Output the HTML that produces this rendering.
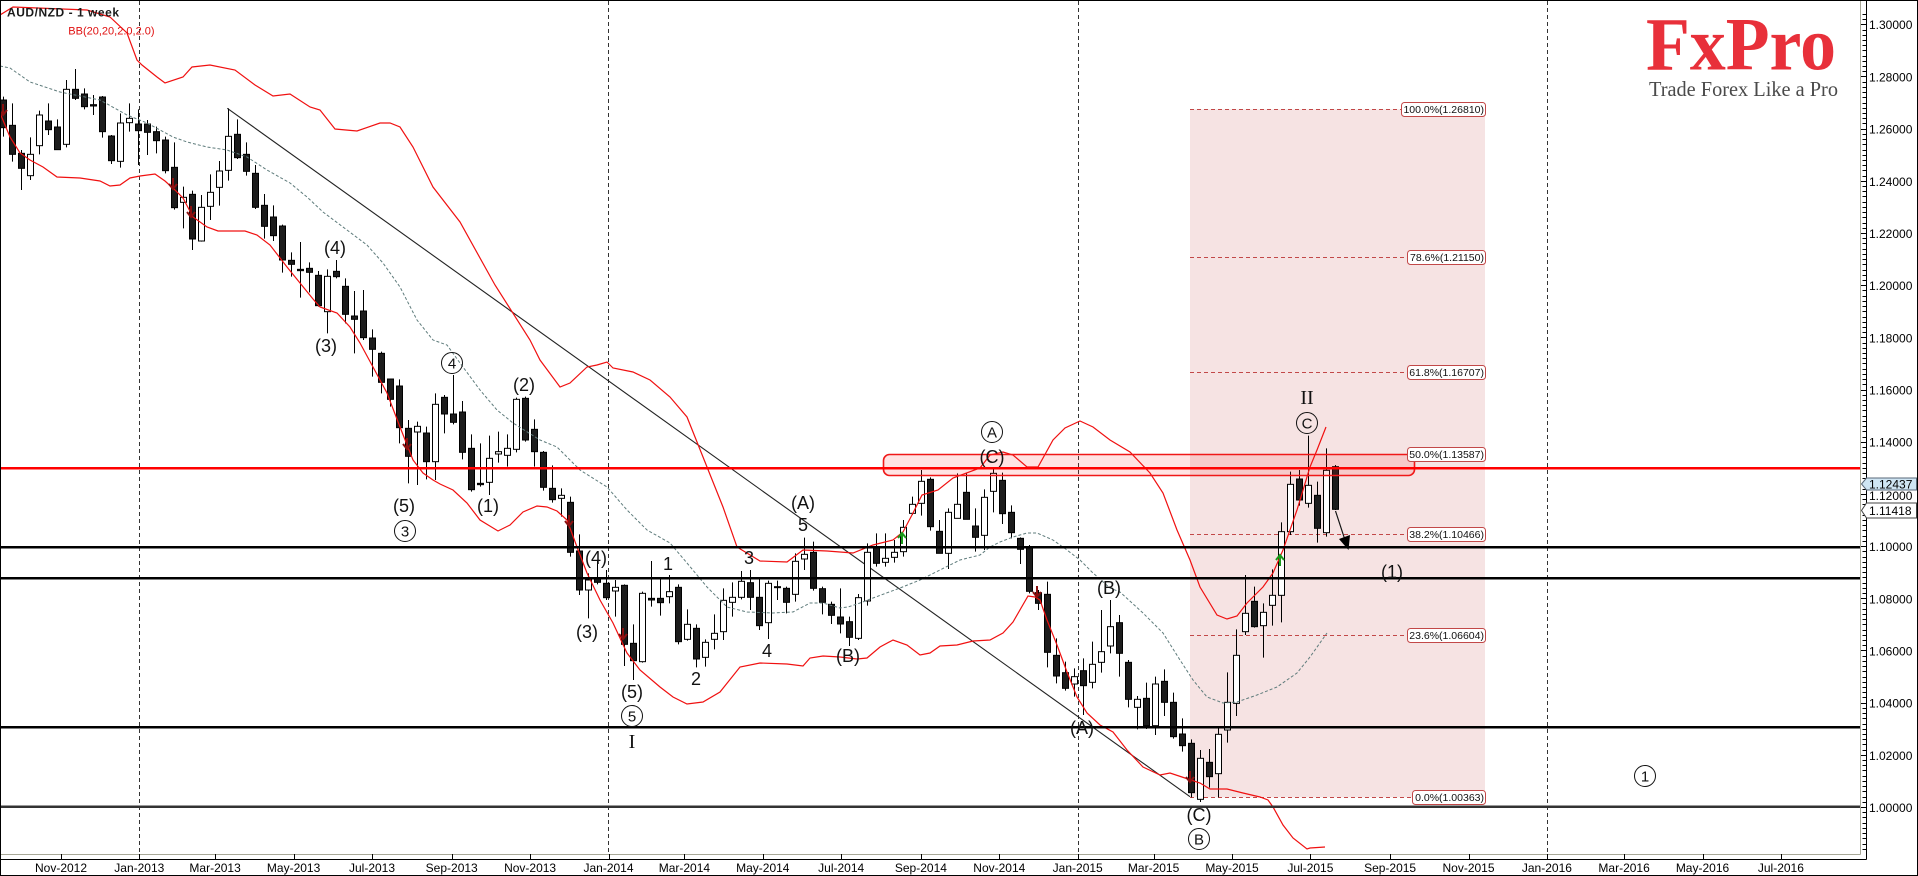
<!DOCTYPE html>
<html><head><meta charset="utf-8">
<style>
html,body{margin:0;padding:0;background:#fff;overflow:hidden;}
svg{display:block;}
.ax{font-family:"Liberation Sans",Arial,sans-serif;font-size:12px;fill:#000;dominant-baseline:central;}
.dt{font-family:"Liberation Sans",Arial,sans-serif;font-size:12px;fill:#000;text-anchor:middle;dominant-baseline:central;}
.w{font-family:"Liberation Sans",Arial,sans-serif;font-size:18px;fill:#111;text-anchor:middle;dominant-baseline:central;}
.cw{font-family:"Liberation Sans",Arial,sans-serif;font-size:15px;fill:#111;text-anchor:middle;dominant-baseline:central;}
.rm{font-family:"Liberation Serif","Times New Roman",serif;font-size:20px;fill:#111;text-anchor:middle;dominant-baseline:central;}
.fib{font-family:"Liberation Sans",Arial,sans-serif;font-size:10.5px;fill:#111;text-anchor:end;dominant-baseline:central;}
</style></head><body>
<svg id="c" width="1918" height="876" viewBox="0 0 1918 876" xmlns="http://www.w3.org/2000/svg">
<rect x="0" y="0" width="1918" height="876" fill="#fff"/>
<!-- fib rect -->
<rect x="1190" y="109.3" width="295" height="688" fill="#f6e3e3"/>
<g stroke="#c24848" stroke-width="1" stroke-dasharray="4,3" fill="none">
<line x1="1190" y1="109.5" x2="1402" y2="109.5"/>
<line x1="1190" y1="257.5" x2="1407" y2="257.5"/>
<line x1="1190" y1="372.5" x2="1407" y2="372.5"/>
<line x1="1190" y1="454.5" x2="1407" y2="454.5"/>
<line x1="1190" y1="534.5" x2="1407" y2="534.5"/>
<line x1="1190" y1="635.5" x2="1407" y2="635.5"/>
<line x1="1190" y1="797.5" x2="1412" y2="797.5"/>
</g>
<!-- dashed verticals -->
<g stroke="#333" stroke-width="1" stroke-dasharray="4,3">
<line x1="139.5" y1="1" x2="139.5" y2="854"/>
<line x1="608.5" y1="1" x2="608.5" y2="854"/>
<line x1="1078.5" y1="1" x2="1078.5" y2="854"/>
<line x1="1547.5" y1="1" x2="1547.5" y2="854"/>
</g>
<!-- trendline -->
<line x1="227.3" y1="108.3" x2="1190" y2="796.7" stroke="#222" stroke-width="1.1"/>
<g id="candles"></g>
<g id="bands"></g>
<!-- resistance rect -->
<rect x="883.5" y="454.5" width="531" height="21" rx="6" ry="6" fill="rgba(255,40,40,0.13)" stroke="#f01818" stroke-width="1.6"/>
<!-- horizontal levels -->
<line x1="0" y1="468.3" x2="1860" y2="468.3" stroke="#f00" stroke-width="2.5"/>
<line x1="0" y1="547.3" x2="1860" y2="547.3" stroke="#000" stroke-width="2.5"/>
<line x1="0" y1="578.3" x2="1860" y2="578.3" stroke="#000" stroke-width="2.5"/>
<line x1="0" y1="727.3" x2="1860" y2="727.3" stroke="#000" stroke-width="2.5"/>
<line x1="0" y1="806.7" x2="1860" y2="806.7" stroke="#333" stroke-width="2.5"/>
<!-- arrow -->
<line x1="1335.5" y1="511" x2="1345" y2="540" stroke="#111" stroke-width="1.2"/>
<polygon points="1339,539 1350,535 1348.5,550" fill="#000"/>
<g id="marks"></g>

<!-- fib labels -->
<g fill="#fff" stroke="#c24848" stroke-width="1">
<rect x="1401.5" y="102.5" width="84" height="14" rx="3"/>
<rect x="1407.5" y="250.5" width="78" height="14" rx="3"/>
<rect x="1407.5" y="365.5" width="78" height="14" rx="3"/>
<rect x="1407.5" y="447.5" width="78" height="14" rx="3"/>
<rect x="1407.5" y="527.5" width="78" height="14" rx="3"/>
<rect x="1407.5" y="628.5" width="78" height="14" rx="3"/>
<rect x="1412.5" y="790.5" width="73" height="14" rx="3"/>
</g>
<text class="fib" x="1484" y="110">100.0%(1.26810)</text>
<text class="fib" x="1484" y="258">78.6%(1.21150)</text>
<text class="fib" x="1484" y="373">61.8%(1.16707)</text>
<text class="fib" x="1484" y="455">50.0%(1.13587)</text>
<text class="fib" x="1484" y="535">38.2%(1.10466)</text>
<text class="fib" x="1484" y="636">23.6%(1.06604)</text>
<text class="fib" x="1484" y="798">0.0%(1.00363)</text>

<!-- wave labels -->
<text class="w" x="335" y="248">(4)</text>
<text class="w" x="326" y="346">(3)</text>
<text class="w" x="404" y="506">(5)</text>
<text class="w" x="488" y="506">(1)</text>
<text class="w" x="524" y="385">(2)</text>
<text class="w" x="596" y="558">(4)</text>
<text class="w" x="587" y="632">(3)</text>
<text class="w" x="632" y="692">(5)</text>
<text class="rm" x="632" y="742">I</text>
<text class="w" x="668" y="564">1</text>
<text class="w" x="696" y="679">2</text>
<text class="w" x="749" y="558">3</text>
<text class="w" x="767" y="651">4</text>
<text class="w" x="803" y="503">(A)</text>
<text class="w" x="803" y="525">5</text>
<text class="w" x="848" y="656">(B)</text>
<text class="w" x="992" y="457">(C)</text>
<text class="w" x="1109" y="588">(B)</text>
<text class="w" x="1082" y="728">(A)</text>
<text class="w" x="1199" y="815">(C)</text>
<text class="w" x="1392" y="572">(1)</text>
<text class="rm" x="1307" y="398">II</text>
<g fill="none" stroke="#111" stroke-width="1">
<circle cx="405" cy="531" r="10.5"/>
<circle cx="452" cy="363" r="10.5"/>
<circle cx="632" cy="716" r="10.5"/>
<circle cx="992" cy="432" r="10.5"/>
<circle cx="1307" cy="423" r="10.5"/>
<circle cx="1199" cy="839" r="10.5"/>
<circle cx="1645" cy="776" r="10.5"/>
</g>
<text class="cw" x="405" y="532">3</text>
<text class="cw" x="452" y="364">4</text>
<text class="cw" x="632" y="717">5</text>
<text class="cw" x="992" y="433">A</text>
<text class="cw" x="1307" y="424">C</text>
<text class="cw" x="1199" y="840">B</text>
<text class="cw" x="1645" y="777">1</text>

<!-- title -->
<text x="7" y="16.7" font-family="Liberation Sans, Arial, sans-serif" font-size="12" font-weight="bold" fill="#1a1a1a" textLength="112">AUD/NZD - 1 week</text>
<text x="68.3" y="34.3" font-family="Liberation Sans, Arial, sans-serif" font-size="11" fill="#e01010">BB(20,20,2.0,2.0)</text>

<!-- logo -->
<text x="1646" y="69.5" font-family="Liberation Serif, Times New Roman, serif" font-size="75" font-weight="bold" fill="#e8303a" textLength="190" lengthAdjust="spacingAndGlyphs">FxPro</text>
<text x="1649" y="96" font-family="Liberation Serif, Times New Roman, serif" font-size="21" fill="#4a4a4a" textLength="189" lengthAdjust="spacingAndGlyphs">Trade Forex Like a Pro</text>

<!-- axes frame -->
<line x1="1860.5" y1="0" x2="1860.5" y2="854.5" stroke="#a8a898" stroke-width="1"/>
<line x1="0" y1="854.5" x2="1860.5" y2="854.5" stroke="#a8a898" stroke-width="1"/>
<line x1="1866.5" y1="0" x2="1866.5" y2="859.5" stroke="#000" stroke-width="1"/>
<line x1="0" y1="859.5" x2="1866.5" y2="859.5" stroke="#000" stroke-width="1"/>
<g id="ticks" stroke="#000" stroke-width="1"></g>
<rect x="0.5" y="0.5" width="1917" height="875" fill="none" stroke="#000" stroke-width="1"/>

<!-- price labels -->
<text class="ax" x="1869" y="25">1.30000</text>
<text class="ax" x="1869" y="77.5">1.28000</text>
<text class="ax" x="1869" y="129.7">1.26000</text>
<text class="ax" x="1869" y="181.8">1.24000</text>
<text class="ax" x="1869" y="234">1.22000</text>
<text class="ax" x="1869" y="286.2">1.20000</text>
<text class="ax" x="1869" y="338.4">1.18000</text>
<text class="ax" x="1869" y="390.6">1.16000</text>
<text class="ax" x="1869" y="442.7">1.14000</text>
<text class="ax" x="1869" y="496">1.12000</text>
<text class="ax" x="1869" y="547.1">1.10000</text>
<text class="ax" x="1869" y="599.3">1.08000</text>
<text class="ax" x="1869" y="651.5">1.06000</text>
<text class="ax" x="1869" y="703.6">1.04000</text>
<text class="ax" x="1869" y="755.8">1.02000</text>
<text class="ax" x="1869" y="808">1.00000</text>
<polygon points="1861.5,484 1866.5,478 1916.5,478 1916.5,490 1866.5,490" fill="#cfe5f3" stroke="#5a6878" stroke-width="1"/>
<text class="ax" x="1869" y="484.3">1.12437</text>
<polygon points="1861.5,510.5 1866.5,503 1916.5,503 1916.5,518 1866.5,518" fill="#fff" stroke="#444" stroke-width="1"/>
<text class="ax" x="1869" y="510.8">1.11418</text>

<!-- date labels -->
<text class="dt" x="61" y="868">Nov-2012</text>
<text class="dt" x="139.3" y="868">Jan-2013</text>
<text class="dt" x="215.1" y="868">Mar-2013</text>
<text class="dt" x="293.6" y="868">May-2013</text>
<text class="dt" x="372" y="868">Jul-2013</text>
<text class="dt" x="451.7" y="868">Sep-2013</text>
<text class="dt" x="530.1" y="868">Nov-2013</text>
<text class="dt" x="608.5" y="868">Jan-2014</text>
<text class="dt" x="684.4" y="868">Mar-2014</text>
<text class="dt" x="762.8" y="868">May-2014</text>
<text class="dt" x="841.2" y="868">Jul-2014</text>
<text class="dt" x="920.9" y="868">Sep-2014</text>
<text class="dt" x="999.3" y="868">Nov-2014</text>
<text class="dt" x="1077.7" y="868">Jan-2015</text>
<text class="dt" x="1153.6" y="868">Mar-2015</text>
<text class="dt" x="1232" y="868">May-2015</text>
<text class="dt" x="1310.4" y="868">Jul-2015</text>
<text class="dt" x="1390.1" y="868">Sep-2015</text>
<text class="dt" x="1468.5" y="868">Nov-2015</text>
<text class="dt" x="1546.9" y="868">Jan-2016</text>
<text class="dt" x="1624.1" y="868">Mar-2016</text>
<text class="dt" x="1702.5" y="868">May-2016</text>
<text class="dt" x="1780.9" y="868">Jul-2016</text>
</svg>
<script>
(function(){
var NS='http://www.w3.org/2000/svg';
function el(t,a,p){var e=document.createElementNS(NS,t);for(var k in a)e.setAttribute(k,a[k]);p.appendChild(e);return e;}
var groups=[
{oy:60,s:1,d:[[120,203,110,230,0],[196,283,130,305,0],[280,325,270,390,0],[283,347,232,360,1],[165,257,152,283,1],[183,209,130,225,0],[201,269,178,269,0],[88,253,60,262,1],[88,115,27,120,0],[102,140,85,148,0],[134,138,105,165,0],[111,215,108,233,0],[228,302,225,312,0],[189,304,160,323,1],[175,188,130,215,1],[192,212,148,315,0],[192,217,180,285,0],[215,242,200,280,0],[240,332,230,340,0],[322,443,247,449,0],[412,427,380,505,1],[403,537,392,570,0],[442,543,405,545,1],[397,439,343,480,1],[333,382,303,437,1],[229,331,145,362,1],[223,293,178,297,0],[283,334,247,347,0],[340,442,315,447,0],[436,499,402,536,0],[471,527,436,543,0],[498,600,494,638,0],[601,613,577,650,0],[628,632,546,713,0],[625,637,607,697,0],[646,737,633,740,0],[649,755,628,820,1],[634,650,600,655,0],[679,763,655,790,0],[768,778,693,880,0],[753,833,690,840,0],[834,868,808,950,0],[880,967,875,1000,0],[957,1018,960,1040,0],[978,1103,958,1150,0],[1105,1189,1080,1270,0],[1099,1116,1085,1275,1],[1119,1205,1100,1258,0],[1033,1205,1000,1260,1]]},
{oy:340,s:50,d:[[172,222,165,280,0],[222,247,105,253,0],[216,337,183,358,0],[325,449,283,455,0],[430,434,310,440,0],[355,427,287,465,1],[335,342,275,368,1],[325,346,283,380,1],[178,328,173,337,1],[175,300,170,305,0],[268,335,238,380,0],[337,442,333,452,0],[445,479,376,488,0],[466,475,445,530,1],[487,637,470,650,0],[633,750,583,765,0],[720,750,700,835,1],[715,727,660,733,0],[730,773,690,780,0],[742,753,720,830,1],[736,913,733,978,0],[910,962,853,1020,0],[760,965,755,968,1],[775,780,663,800,0],[775,788,718,827,0],[755,770,705,790,1],[742,905,733,913,0],[853,898,808,902,1],[865,957,853,982,0],[907,952,898,980,1],[880,898,823,928,1],[781,875,745,900,1],[772,787,727,830,1],[724,772,693,778,1],[728,772,690,810,0],[772,857,718,870,0],[730,848,722,897,1],[740,743,722,780,0],[745,787,740,820,0],[664,763,640,785,1],[643,657,593,690,1],[637,745,605,752,0],[746,787,740,823,0],[793,826,785,852,0],[831,852,745,880,0],[845,892,830,918,0],[773,895,762,900,1],[637,783,610,797,1],[623,670,580,680,0],[655,667,580,680,1],[637,652,600,668,1]]},
{oy:360,s:101,d:[[502,575,480,590,1],[433,460,410,465,1],[364,430,330,467,1],[358,500,352,512,0],[514,580,480,580,0],[457,580,445,627,1],[433,475,340,475,1],[397,478,340,478,0],[498,532,445,575,0],[412,526,388,570,1],[340,394,327,457,1],[361,461,338,492,0],[457,518,436,535,0],[535,568,532,612,0],[562,694,555,700,0],[698,730,690,750,0],[703,877,665,922,0],[886,948,835,970,0],[938,985,905,992,0],[950,972,925,1010,1],[932,977,895,1065,0],[913,967,845,985,1],[875,907,750,938,1],[800,858,720,880,1]]},
{oy:360,s:125,d:[[788,880,765,950,0],[907,1018,900,1042,0],[1018,1042,1008,1108,1],[1015,1097,968,1107,0],[972,1097,950,1125,1],[964,1027,928,1068,0],[1027,1130,998,1136,0],[1122,1157,1075,1175,0],[1150,1298,1138,1312,0],[1195,1318,1170,1326,1],[1207,1250,1167,1283,0],[1123,1241,1105,1312,1],[1027,1110,937,1148,1],[886,1030,808,1068,1],[760,815,645,825,1],[724,800,680,803,0],[757,797,730,893,1],[706,736,628,797,1],[515,706,487,787,1],[373,515,335,525,1],[357,420,330,437,0],[376,430,227,443,1],[406,505,365,548,0],[331,518,265,530,1],[320,448,315,450,0]]}
];
var cg=document.getElementById('candles');
groups.forEach(function(g){g.d.forEach(function(c,j){
 var i=g.s+j, xc=2.7+(i-1)*9, xi=Math.round(xc);
 var bt=g.oy+c[0]/3, bb=g.oy+c[1]/3, wt=g.oy+c[2]/3, wb=g.oy+c[3]/3;
 el('line',{x1:xi+0.5,x2:xi+0.5,y1:wt,y2:wb,stroke:'#000','stroke-width':1},cg);
 var h=Math.max(1,bb-bt);
 if(c[4]) el('rect',{x:xi-2.5,y:bt,width:6,height:h,fill:'#fff',stroke:'#000','stroke-width':1},cg);
 else el('rect',{x:xi-2.5,y:bt,width:6,height:h,fill:'#1c1c1c',stroke:'#000','stroke-width':1},cg);
});});
var up=[[0,15],[13,7],[87,10],[110,17],[127,33],[137,60],[142,65],[157,77],[165,83],[183,77],[192,67],[210,65],[235,70],[255,85],[273,96],[290,94],[310,107],[320,110],[335,129],[357,131],[380,123],[390,123],[400,127],[413,147],[433,187],[460,222],[495,285],[530,340],[540,360],[560,387],[570,383],[587,367],[597,365],[607,362],[613,368],[633,372],[650,380],[670,397],[687,417],[707,467],[723,507],[737,547],[760,561],[787,562],[803,550],[827,551],[853,553],[873,545],[893,540],[903,532],[913,513],[922,495],[938,490],[953,478],[980,468],[990,455],[1003,452],[1013,455],[1027,467],[1038,467],[1053,440],[1065,428],[1080,421],[1093,427],[1110,440],[1130,452],[1150,473],[1163,493],[1177,530],[1190,560],[1200,587],[1217,615],[1227,619],[1237,616],[1247,603],[1263,587],[1273,573],[1283,550],[1297,510],[1310,467],[1317,450],[1326,427]];
var lo=[[0,113],[10,137],[20,153],[30,160],[43,167],[57,177],[80,178],[100,181],[110,186],[120,185],[130,178],[140,176],[155,174],[165,181],[175,190],[183,198],[193,217],[207,227],[218,231],[245,231],[257,235],[270,245],[287,267],[300,283],[313,299],[320,307],[337,313],[350,327],[360,343],[373,367],[387,393],[400,427],[413,460],[423,473],[433,480],[440,484],[453,490],[467,503],[480,520],[498,531],[510,525],[523,512],[537,506],[547,507],[557,511],[567,520],[577,547],[587,573],[600,600],[613,623],[627,653],[640,670],[660,687],[673,697],[687,704],[703,702],[720,692],[740,667],[760,663],[787,664],[803,666],[810,658],[823,656],[840,657],[857,659],[867,658],[880,647],[893,640],[907,645],[920,655],[930,653],[940,646],[957,645],[973,641],[990,640],[1003,633],[1013,622],[1028,596],[1035,597],[1040,600],[1047,620],[1057,645],[1067,672],[1077,697],[1087,713],[1100,725],[1113,732],[1127,750],[1143,767],[1160,775],[1170,773],[1185,778],[1200,783],[1210,789],[1227,789],[1243,793],[1260,797],[1268,800],[1273,807],[1283,825],[1293,838],[1307,849],[1310,848],[1325,847]];
var mid=[[0,66],[10,68],[30,82],[60,92],[100,100],[127,115],[147,123],[173,137],[187,142],[207,147],[227,150],[247,157],[267,170],[290,183],[307,197],[323,212],[347,230],[367,245],[383,263],[400,287],[417,320],[433,340],[447,345],[460,363],[480,390],[497,410],[513,423],[540,440],[557,447],[580,470],[607,487],[627,510],[647,530],[670,543],[687,563],[707,587],[727,607],[747,612],[773,613],[793,612],[810,603],[823,603],[840,608],[848,607],[860,603],[873,598],[900,588],[920,580],[940,570],[960,560],[980,555],[990,547],[1000,542],[1013,537],[1027,533],[1037,533],[1053,540],[1067,550],[1080,560],[1093,573],[1110,588],[1120,592],[1143,613],[1163,633],[1180,660],[1193,680],[1207,697],[1223,703],[1237,702],[1257,695],[1277,687],[1297,673],[1310,657],[1327,633]];
var bg=document.getElementById('bands');
function pl(p){return p.map(function(q){return q[0]+','+q[1];}).join(' ');}
el('polyline',{points:pl(mid),fill:'none',stroke:'#5f7c7c','stroke-width':1,'stroke-dasharray':'3,2'},bg);
el('polyline',{points:pl(up),fill:'none',stroke:'#f01010','stroke-width':1.2},bg);
el('polyline',{points:pl(lo),fill:'none',stroke:'#f01010','stroke-width':1.2},bg);
var mg=document.getElementById('marks');
[[3,111],[173,185],[191,213],[407,445],[569,522],[623,635],[1037,593],[1190,778]].forEach(function(a){
 el('path',{d:'M'+a[0]+' '+(a[1]-7)+' L'+a[0]+' '+(a[1]+4)+' M'+(a[0]-4)+' '+(a[1]-1)+' L'+a[0]+' '+(a[1]+4)+' L'+(a[0]+4)+' '+(a[1]-1),fill:'none',stroke:'#8b1010','stroke-width':2},mg);
});
[[902,537],[1280,559]].forEach(function(a){
 el('path',{d:'M'+a[0]+' '+(a[1]+7)+' L'+a[0]+' '+(a[1]-4)+' M'+(a[0]-4)+' '+(a[1]+1)+' L'+a[0]+' '+(a[1]-4)+' L'+(a[0]+4)+' '+(a[1]+1),fill:'none',stroke:'#1a9a1a','stroke-width':2},mg);
});
var tg=document.getElementById('ticks');
for(var k=0;k<=160;k++){var p=0.984+k*0.002;var y=807-(p-1)*2609;if(y<2||y>853)continue;
 var major=(k%10===8);
 el('line',{x1:major?1861:1862.5,x2:1866,y1:Math.round(y)+0.5,y2:Math.round(y)+0.5},tg);}
[61,139.3,215.1,293.6,372,451.7,530.1,608.5,684.4,762.8,841.2,920.9,999.3,1077.7,1153.6,1232,1310.4,1390.1,1468.5,1546.9,1624.1,1702.5,1780.9].forEach(function(x){
 var xx=Math.round(x)+0.5; el('line',{x1:xx,x2:xx,y1:854,y2:859},tg);});
})();
</script>
</body></html>
